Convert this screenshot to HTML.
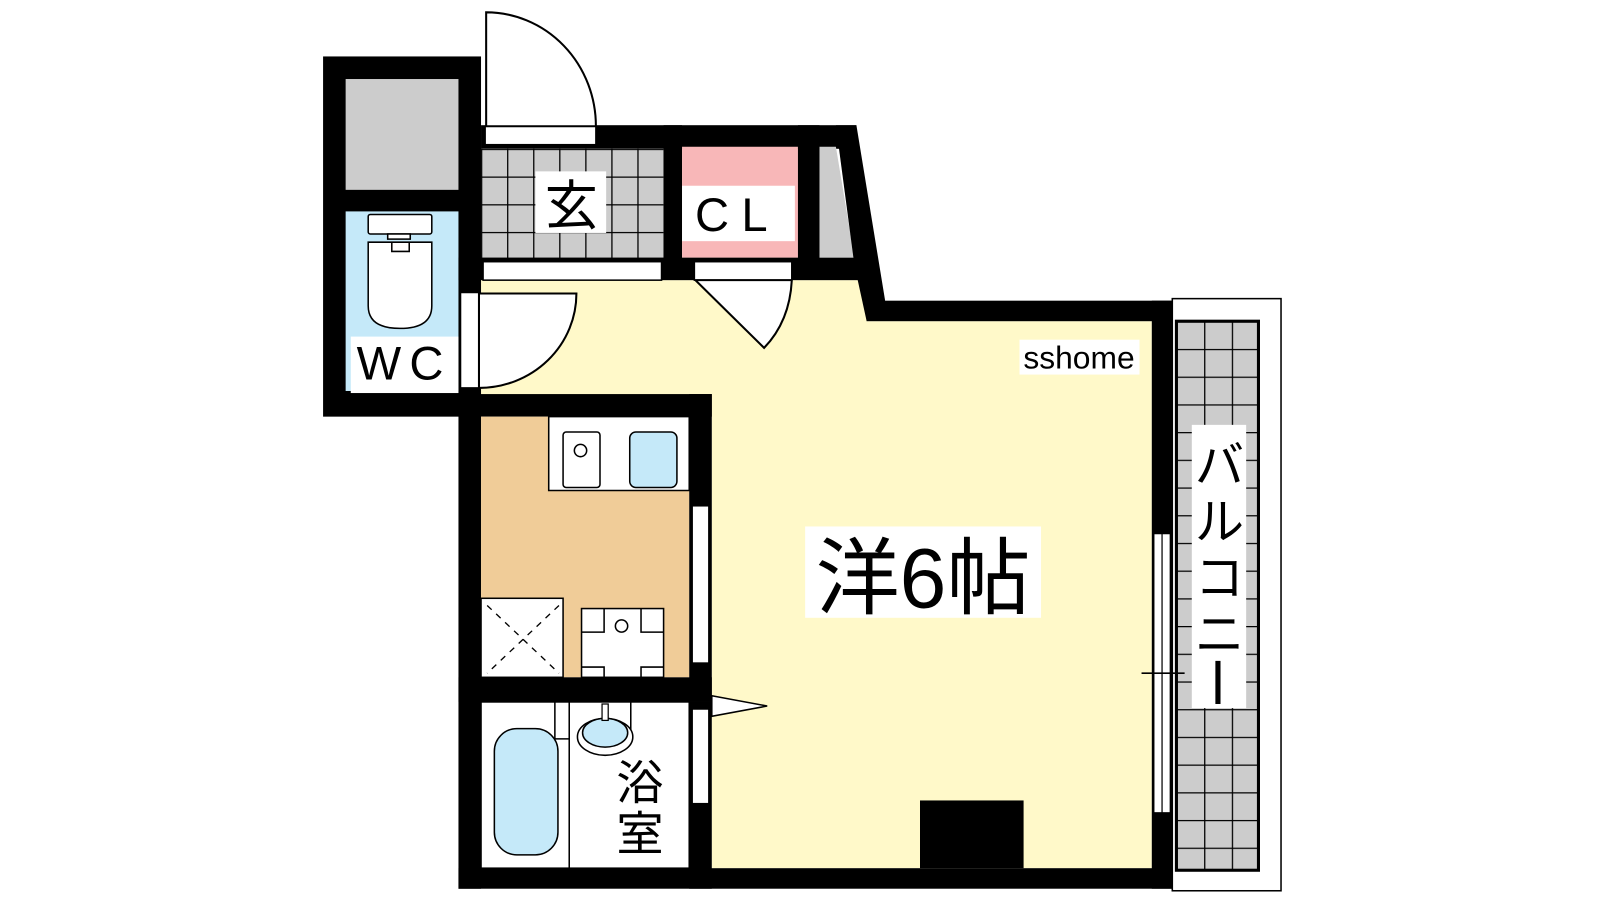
<!DOCTYPE html>
<html><head><meta charset="utf-8"><style>
html,body{margin:0;padding:0;background:#fff;width:1600px;height:900px;overflow:hidden}
svg{display:block}
text{font-family:"Liberation Sans","Noto Sans CJK JP",sans-serif;fill:#000}
</style></head><body>
<svg width="1600" height="900" viewBox="3 2 1560 877" preserveAspectRatio="none" xmlns="http://www.w3.org/2000/svg">
<defs>
<pattern id="tile" x="472" y="147" width="25.4" height="27" patternUnits="userSpaceOnUse">
<rect width="25.4" height="27" fill="#cccccc"/><path d="M0 0H25.4M0 0V27" stroke="#000" stroke-width="2.5" fill="none"/></pattern>
<pattern id="btile" x="1150" y="315" width="27" height="27" patternUnits="userSpaceOnUse">
<rect width="27" height="27" fill="#cccccc"/><path d="M0 0H27M0 0V27" stroke="#000" stroke-width="2.5" fill="none"/></pattern>
</defs>

<!-- balcony -->
<rect x="1146" y="293" width="106" height="577" fill="#fff" stroke="#000" stroke-width="1.5"/>
<rect x="1150" y="315" width="80" height="535" fill="url(#btile)" stroke="#000" stroke-width="3"/>
<rect x="1165" y="416" width="53" height="276" fill="#fff"/>
<text x="1192" y="472" font-size="48" text-anchor="middle">バ</text>
<text x="1192" y="527" font-size="48" text-anchor="middle">ル</text>
<text x="1192" y="582" font-size="48" text-anchor="middle">コ</text>
<text x="1192" y="637" font-size="48" text-anchor="middle">ニ</text>
<rect x="1188" y="646" width="5" height="42" fill="#000"/>

<!-- main room yellow -->
<path d="M472 275 H848 V315 H1126 V848 H697 V408 H472 Z" fill="#fff9c9"/>

<!-- WC block -->
<rect x="318" y="57" width="154" height="351" fill="#000"/>
<rect x="340" y="79" width="110" height="108" fill="#cccccc"/>
<rect x="340" y="208" width="110" height="175" fill="#c5e9f9"/>
<rect x="362" y="211" width="62" height="19" rx="2" fill="#fff" stroke="#000" stroke-width="1.5"/>
<rect x="381" y="230" width="22" height="5" fill="#fff" stroke="#000" stroke-width="1.5"/>
<path d="M362 238 H424 V300 Q424 322 393 322 Q362 322 362 300 Z" fill="#fff" stroke="#000" stroke-width="1.5"/>
<path d="M385 238 V247 H402 V238" fill="none" stroke="#000" stroke-width="1.5"/>
<rect x="345" y="330" width="105" height="55" fill="#fff"/>
<text x="397" y="372" font-size="46" text-anchor="middle" letter-spacing="8">WC</text>
<rect x="452" y="287" width="18" height="93" fill="#fff" stroke="#000" stroke-width="1.5"/>
<path d="M470 288 H565 A95 92 0 0 1 470 380 Z" fill="#fff" stroke="#000" stroke-width="2"/>

<!-- entrance -->
<rect x="472" y="124" width="366" height="23" fill="#000"/>
<rect x="472" y="147" width="178" height="111" fill="url(#tile)"/>
<rect x="525" y="169" width="69" height="60" fill="#fff"/>
<text x="560" y="221" font-size="52" text-anchor="middle">玄</text>
<rect x="476" y="125" width="108" height="18" fill="#fff" stroke="#000" stroke-width="1.5"/>
<path d="M477 14 V125 H584 A107 111 0 0 0 477 14 Z" fill="#fff" stroke="#000" stroke-width="2"/>
<rect x="450" y="253" width="400" height="22" fill="#000"/>
<rect x="474" y="257" width="174" height="18" fill="#fff" stroke="#000" stroke-width="1.5"/>
<rect x="650" y="124" width="18" height="140" fill="#000"/>
<rect x="668" y="145" width="113" height="108" fill="#f8b7b8"/>
<rect x="668" y="183" width="110" height="54" fill="#fff"/>
<text x="722" y="227" font-size="46" text-anchor="middle" letter-spacing="12">CL</text>
<rect x="781" y="124" width="21" height="140" fill="#000"/>
<path d="M802 145 H818 L836 253 H802 Z" fill="#cccccc"/>
<path d="M818 124 H838 L866 295 L848 315 L836 260 Z" fill="#000"/>
<rect x="680" y="257" width="95" height="18" fill="#fff" stroke="#000" stroke-width="1.5"/>
<path d="M681 275 L748 341 Q773 315 775 275 Z" fill="#fff" stroke="#000" stroke-width="2"/>

<!-- top wall of room & right wall -->
<rect x="848" y="295" width="298" height="20" fill="#000"/>
<rect x="1126" y="295" width="20" height="573" fill="#000"/>
<rect x="1128" y="522" width="16" height="272" fill="#fff" stroke="#000" stroke-width="1.2"/>
<line x1="1136" y1="522" x2="1136" y2="794" stroke="#000" stroke-width="1.2"/>
<line x1="1116" y1="658" x2="1158" y2="658" stroke="#000" stroke-width="1.5"/>
<rect x="997" y="333" width="117" height="34" fill="#fff"/>
<text x="1055" y="361" font-size="31" text-anchor="middle">sshome</text>

<!-- kitchen -->
<rect x="450" y="386" width="247" height="22" fill="#000"/>
<rect x="450" y="386" width="22" height="482" fill="#000"/>
<rect x="472" y="408" width="203" height="254" fill="#f0cc98"/>
<rect x="675" y="386" width="22" height="300" fill="#000"/>
<rect x="678" y="495" width="16" height="153" fill="#fff" stroke="#000" stroke-width="1.2"/>
<path d="M538 408 V480 H675 V408 Z" fill="#fff" stroke="#000" stroke-width="1.5"/>
<rect x="552" y="423" width="36" height="54" rx="3" fill="#fff" stroke="#000" stroke-width="1.5"/>
<circle cx="569" cy="441" r="6" fill="none" stroke="#000" stroke-width="1.5"/>
<rect x="617" y="423" width="46" height="54" rx="6" fill="#c5e9f9" stroke="#000" stroke-width="1.5"/>
<rect x="472" y="585" width="80" height="77" fill="#fff" stroke="#000" stroke-width="1.5"/>
<path d="M478 592 L548 658 M548 592 L478 658" stroke="#000" stroke-width="1.3" stroke-dasharray="6 6"/>
<rect x="570" y="595" width="80" height="67" fill="#fff" stroke="#000" stroke-width="1.5"/>
<path d="M570 618 H592 V595 M650 618 H628 V595 M570 652 H592 V662 M650 652 H628 V662" fill="none" stroke="#000" stroke-width="1.5"/>
<circle cx="609" cy="612" r="6" fill="none" stroke="#000" stroke-width="1.5"/>
<rect x="450" y="662" width="247" height="24" fill="#000"/>

<!-- bath -->
<rect x="472" y="686" width="203" height="162" fill="#fff"/>
<rect x="675" y="686" width="22" height="182" fill="#000"/>
<rect x="678" y="693" width="16" height="92" fill="#fff" stroke="#000" stroke-width="1.2"/>
<path d="M697 680 L751 690 L697 700 Z" fill="#fff" stroke="#000" stroke-width="1.5"/>
<rect x="472" y="686" width="203" height="162" fill="none" stroke="#000" stroke-width="1.5"/>
<rect x="485" y="712" width="62" height="123" rx="22" fill="#c5e9f9" stroke="#000" stroke-width="1.5"/>
<line x1="558" y1="686" x2="558" y2="848" stroke="#000" stroke-width="1.5"/>
<path d="M544 686 V722 H558" fill="none" stroke="#000" stroke-width="1.5"/>
<path d="M618 686 V722 H610" fill="none" stroke="#000" stroke-width="1.5"/>
<ellipse cx="593" cy="720" rx="27" ry="18" fill="#fff" stroke="#000" stroke-width="1.5"/>
<ellipse cx="593" cy="716" rx="22" ry="14" fill="#c5e9f9" stroke="#000" stroke-width="1.5"/>
<rect x="590" y="688" width="6" height="16" fill="#fff" stroke="#000" stroke-width="1.2"/>
<text x="627" y="781" font-size="46" text-anchor="middle">浴</text>
<text x="627" y="831" font-size="46" text-anchor="middle">室</text>

<rect x="450" y="848" width="696" height="20" fill="#000"/>
<rect x="900" y="782" width="101" height="66" fill="#000"/>

<rect x="788" y="515" width="230" height="89" fill="#fff"/>
<text x="903" y="594" font-size="82" text-anchor="middle">洋6帖</text>
</svg>
</body></html>
